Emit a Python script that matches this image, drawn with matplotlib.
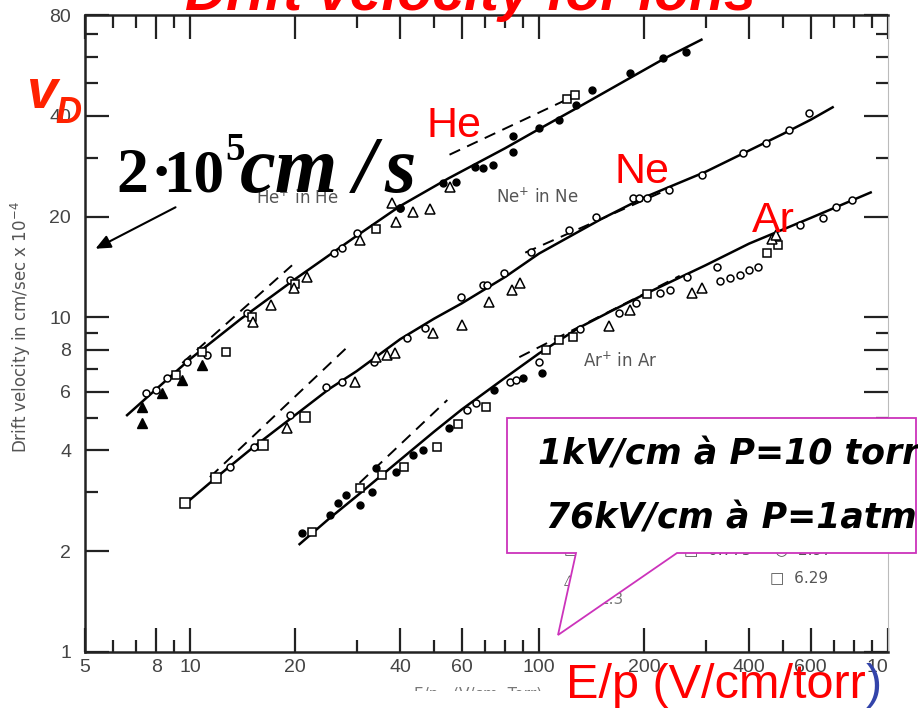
import matplotlib.pyplot as plt
from matplotlib.patches import Polygon, Rectangle
from matplotlib.ticker import FixedLocator, NullFormatter

# --- fitted curves (E/p, drift velocity x1e-4) ---
he_fit_x = [6.6, 8, 10, 14, 20, 30, 40, 55, 80, 100, 130, 180, 230, 292]
he_fit_y = [5.1, 6.1, 7.5, 9.9, 13.0, 17.5, 21.5, 26.0, 32.0, 36.5, 42.5, 51.5, 59.5, 67.5]
ne_fit_x = [10, 12, 15, 20, 25, 30, 40, 50, 60, 80, 100, 150, 200, 300, 400, 500, 600, 694]
ne_fit_y = [2.85, 3.35, 4.05, 5.1, 6.1, 6.9, 8.6, 9.9, 11.0, 13.2, 15.5, 19.6, 22.8, 27.2, 31.5, 35.3, 38.9, 42.4]
ar_fit_x = [20.6, 25, 30, 40, 50, 60, 80, 100, 130, 160, 200, 300, 400, 600, 892]
ar_fit_y = [2.1, 2.5, 2.92, 3.75, 4.55, 5.3, 6.6, 7.8, 9.3, 10.4, 11.7, 14.3, 16.6, 19.8, 23.6]

# dashed limiting lines (low field / high field)
he_low_x, he_low_y = [9.5, 19.6], [7.3, 14.3]
he_high_x, he_high_y = [55.4, 130], [30.6, 46.5]
ne_low_x, ne_low_y = [11.4, 28.7], [3.33, 8.28]
ne_high_x, ne_high_y = [91.3, 232], [15.6, 24.0]
ar_low_x, ar_low_y = [30.6, 54.6], [3.2, 5.66]
ar_high_x, ar_high_y = [87.8, 253], [7.6, 13.3]

# --- measured points ---
he_tri_f_x = [7.3, 7.3, 8.3, 9.5, 10.8]
he_tri_f_y = [4.83, 5.4, 5.95, 6.5, 7.2]
he_circ_x = [7.5, 8.0, 8.6, 9.8, 11.2, 14.6, 19.4, 25.9, 27.3, 30, 40]
he_circ_y = [5.95, 6.07, 6.6, 7.35, 7.7, 10.3, 12.9, 15.6, 16.1, 17.8, 21.2]
he_sq_x = [9.1, 10.8, 12.7, 15.0, 20.0, 34.1, 120, 127]
he_sq_y = [6.7, 7.9, 7.9, 10.0, 12.6, 18.3, 45.0, 46.0]
he_tri_x = [15.1, 17.1, 19.8, 21.6, 30.6, 38.0, 38.8, 43.5, 48.6, 55.5]
he_tri_y = [9.67, 10.9, 12.2, 13.2, 17.0, 21.9, 19.2, 20.7, 21.0, 24.5]
he_circ_f_x = [40, 53, 58, 65.5, 69, 74, 84, 84, 100, 114, 128, 142, 182, 226, 264]
he_circ_f_y = [21.2, 25.2, 25.3, 28.1, 27.9, 28.6, 31.2, 34.7, 36.7, 38.8, 43.1, 47.6, 53.8, 59.6, 62.0]

ne_sq_x = [9.7, 11.9, 16.2, 21.3]
ne_sq_y = [2.79, 3.31, 4.16, 5.03]
ne_circ_x = [13.0, 15.2, 19.4, 24.6, 27.3, 33.7, 41.9, 47, 59.6, 69, 71, 79.6, 95, 122,
             146, 186, 194, 204, 236, 293, 383, 448, 522, 592]
ne_circ_y = [3.57, 4.1, 5.1, 6.2, 6.4, 7.35, 8.7, 9.3, 11.5, 12.5, 12.5, 13.6, 15.7, 18.2,
             19.9, 22.7, 22.7, 22.7, 24.0, 26.7, 31.0, 33.2, 36.3, 40.9]
ne_tri_x = [19.0, 29.6, 34.1, 36.6, 38.6, 49.6, 60.3, 72, 83.5, 88]
ne_tri_y = [4.67, 6.4, 7.6, 7.7, 7.8, 9.0, 9.5, 11.1, 12.1, 12.7]

ar_circ_f_x = [21, 25.1, 26.5, 28, 30.6, 33.2, 34.1, 39, 43.5, 46.4, 55.1, 74.5, 90, 102]
ar_circ_f_y = [2.27, 2.57, 2.79, 2.95, 2.75, 3.0, 3.55, 3.45, 3.88, 4.0, 4.67, 6.07, 6.6, 6.8]
ar_sq_x = [22.3, 30.6, 35.4, 40.9, 51, 58.5, 70.5, 105, 114, 125, 204, 450, 483]
ar_sq_y = [2.28, 3.1, 3.38, 3.57, 4.1, 4.8, 5.4, 8.0, 8.55, 8.75, 11.7, 15.6, 16.4]
ar_circ_x = [62.3, 66.1, 82.5, 86, 100, 131, 170, 190, 222, 237, 265, 324, 330, 352,
             377, 400, 425, 560, 650, 711, 790]
ar_circ_y = [5.3, 5.55, 6.4, 6.5, 7.35, 9.2, 10.3, 11.0, 11.8, 12.1, 13.2, 14.1, 12.8, 13.1,
             13.4, 13.8, 14.1, 18.9, 19.8, 21.3, 22.4]
ar_tri_x = [159, 182, 274, 294, 465, 477]
ar_tri_y = [9.4, 10.5, 11.8, 12.2, 17.1, 17.6]

x_major = [5, 8, 10, 20, 40, 60, 100, 200, 400, 600, 1000]
x_major_labels = ["5", "8", "10", "20", "40", "60", "100", "200", "400", "600", "10"]
x_minor = [6, 7, 9, 30, 50, 70, 80, 90, 300, 500, 700, 800, 900]
y_major = [1, 2, 4, 6, 8, 10, 20, 40, 80]
y_major_labels = ["1", "2", "4", "6", "8", "10", "20", "40", "80"]
y_minor = [3, 5, 7, 9, 30, 50, 60, 70]

W, H = 918, 711


def fx(x):
    return x / W


def fy(y):
    return 1 - y / H


fig = plt.figure(figsize=(W / 100, H / 100), dpi=100)
ax = fig.add_axes([fx(85), fy(652), (888 - 85) / W, (652 - 15) / H])
ax.set_xscale("log")
ax.set_yscale("log")
ax.set_xlim(5, 1000)
ax.set_ylim(1, 80)

# fits and limiting lines
for xs, ys in [(he_fit_x, he_fit_y), (ne_fit_x, ne_fit_y), (ar_fit_x, ar_fit_y)]:
    ax.plot(xs, ys, color="black", lw=1.8, zorder=3)
for xs, ys in [(he_low_x, he_low_y), (he_high_x, he_high_y), (ne_low_x, ne_low_y),
               (ne_high_x, ne_high_y), (ar_low_x, ar_low_y), (ar_high_x, ar_high_y)]:
    ax.plot(xs, ys, color="black", lw=1.4, dashes=(6, 4), zorder=3)

# points
open_kw = dict(ls="none", mfc="white", mec="black", mew=1.1, zorder=4)
fill_kw = dict(ls="none", mfc="black", mec="black", zorder=4)
ax.plot(he_tri_f_x, he_tri_f_y, "^", ms=7, **fill_kw)
ax.plot(he_circ_x, he_circ_y, "o", ms=5, **open_kw)
ax.plot(he_sq_x, he_sq_y, "s", ms=6, **open_kw)
ax.plot(he_tri_x, he_tri_y, "^", ms=6.5, **open_kw)
ax.plot(he_circ_f_x, he_circ_f_y, "o", ms=5, **fill_kw)
ax.plot(ne_sq_x, ne_sq_y, "s", ms=7, **open_kw)
ax.plot(ne_circ_x, ne_circ_y, "o", ms=5, **open_kw)
ax.plot(ne_tri_x, ne_tri_y, "^", ms=6.5, **open_kw)
ax.plot(ar_circ_f_x, ar_circ_f_y, "o", ms=5, **fill_kw)
ax.plot(ar_sq_x, ar_sq_y, "s", ms=6, **open_kw)
ax.plot(ar_circ_x, ar_circ_y, "o", ms=5, **open_kw)
ax.plot(ar_tri_x, ar_tri_y, "^", ms=6.5, **open_kw)

# axes look of the scan
ax.xaxis.set_major_locator(FixedLocator(x_major))
ax.xaxis.set_minor_locator(FixedLocator(x_minor))
ax.set_xticklabels(x_major_labels)
ax.xaxis.set_minor_formatter(NullFormatter())
ax.yaxis.set_major_locator(FixedLocator(y_major))
ax.yaxis.set_minor_locator(FixedLocator(y_minor))
ax.set_yticklabels(y_major_labels)
ax.yaxis.set_minor_formatter(NullFormatter())
ax.tick_params(which="both", direction="in", top=True, right=True, width=1.6,
               colors="#222222", labelcolor="#444444", labelsize=14)
ax.tick_params(which="major", length=17)
ax.tick_params(which="minor", length=9)
ax.tick_params(axis="y", pad=10)
ax.tick_params(axis="x", pad=5)
ax.get_xticklabels()[-1].set_ha("right")
for lab in ax.get_xticklabels() + ax.get_yticklabels():
    lab.set_family("Liberation Sans")
for side in ["left", "bottom", "top"]:
    ax.spines[side].set_linewidth(1.8)
    ax.spines[side].set_color("#222222")
ax.spines["right"].set_linewidth(0.8)
ax.spines["right"].set_color("#bbbbbb")

# original labels of the scan
ax.set_ylabel("Drift velocity in cm/sec x 10$^{-4}$", fontsize=12, color="#555555")
ax.yaxis.set_label_coords(fx(25) - fx(85), 0.5 + (327 - 333.5) / -637)
fig.text(fx(297), fy(198), "He$^{+}$ in He", fontsize=12, color="#555555", ha="center", va="center")
fig.text(fx(537), fy(197), "Ne$^{+}$ in Ne", fontsize=12, color="#555555", ha="center", va="center")
fig.text(fx(620), fy(361), "Ar$^{+}$ in Ar", fontsize=12, color="#555555", ha="center", va="center")
fig.text(fx(478), fy(694), "E/p   (V/cm  Torr)", fontsize=11, color="#777777",
         ha="center", va="center", zorder=1)
fig.add_artist(Rectangle((fx(390), 0), fx(175), fy(691), transform=fig.transFigure,
                         facecolor="white", edgecolor="none", zorder=2))

# partially hidden legend of the scan (mostly under the callout)
fig.text(fx(770), fy(578), "\u25a1  6.29", fontsize=11, color="#555555", va="center", zorder=1)
fig.text(fx(775), fy(550), "\u25cb  2.97", fontsize=11, color="#555555", va="center", zorder=1)
fig.text(fx(684), fy(550), "\u25a1  0.775", fontsize=11, color="#555555", va="center", zorder=1)
fig.text(fx(564), fy(550), "\u25a1", fontsize=11, color="#555555", va="center", zorder=1)
fig.text(fx(564), fy(580), "\u25b3", fontsize=10, color="#555555", va="center", zorder=1)
fig.text(fx(600), fy(599), "2.3", fontsize=11, color="#777777", va="center", zorder=1)

# slide overlays
fig.text(fx(470), fy(10), "Drift velocity for ions", fontsize=41, color="#ff0000",
         fontweight="bold", fontstyle="italic", family="Liberation Sans",
         ha="center", va="baseline")
fig.text(fx(26), fy(108), "v", fontsize=40, color="#ff2200", fontweight="bold",
         fontstyle="italic", family="Liberation Sans", va="baseline")
fig.text(fx(55), fy(123), "D", fontsize=26, color="#ff2200", fontweight="bold",
         fontstyle="italic", family="Liberation Sans", va="baseline")
for label, x, y in [("He", 426, 137), ("Ne", 614, 183), ("Ar", 752, 232)]:
    fig.text(fx(x), fy(y), label, fontsize=31, color="#ff0000",
             family="Liberation Sans", va="baseline")

serif = dict(fontweight="bold", family="Liberation Serif", va="baseline")
fig.text(fx(116), fy(192), "2", fontsize=46, **serif)
fig.text(fx(151), fy(192), "\u00b7", fontsize=46, **serif)
fig.text(fx(163), fy(192), "10", fontsize=44, **serif)
fig.text(fx(225), fy(160), "5", fontsize=28, **serif)
fig.text(fx(240), fy(192), "cm", fontsize=58, fontstyle="italic", **serif)
fig.text(fx(354), fy(192), "/", fontsize=58, fontstyle="italic", **serif)
fig.text(fx(384), fy(192), "s", fontsize=58, fontstyle="italic", **serif)
ax.annotate("", xy=(93, H - 250), xytext=(178, H - 206),
            xycoords="figure pixels", textcoords="figure pixels",
            arrowprops=dict(arrowstyle="-|>,head_length=0.9,head_width=0.4",
                            color="black", lw=1.5))

xlab = fig.text(fx(566), fy(698), "E/p (V/cm/torr", fontsize=35, color="#ff0000",
                family="Liberation Sans", va="baseline")
fig.canvas.draw()
right_px = xlab.get_window_extent().x1
fig.text(right_px / W, fy(698), ")", fontsize=35, color="#3344aa",
         family="Liberation Sans", va="baseline")

callout = [(507, 418), (916, 418), (916, 553), (677, 553), (558, 635), (576, 553), (507, 553)]
fig.add_artist(Polygon([(fx(a), fy(b)) for a, b in callout], closed=True,
                       transform=fig.transFigure, facecolor="white",
                       edgecolor="#cc33bb", lw=1.3, zorder=5))
fig.text(fx(538), fy(465), "1kV/cm à P=10 torr", fontsize=25, fontweight="bold",
         fontstyle="italic", va="baseline", zorder=6)
fig.text(fx(546), fy(528), "76kV/cm à P=1atm", fontsize=25, fontweight="bold",
         fontstyle="italic", va="baseline", zorder=6)

fig.savefig("out.png", dpi=100)
